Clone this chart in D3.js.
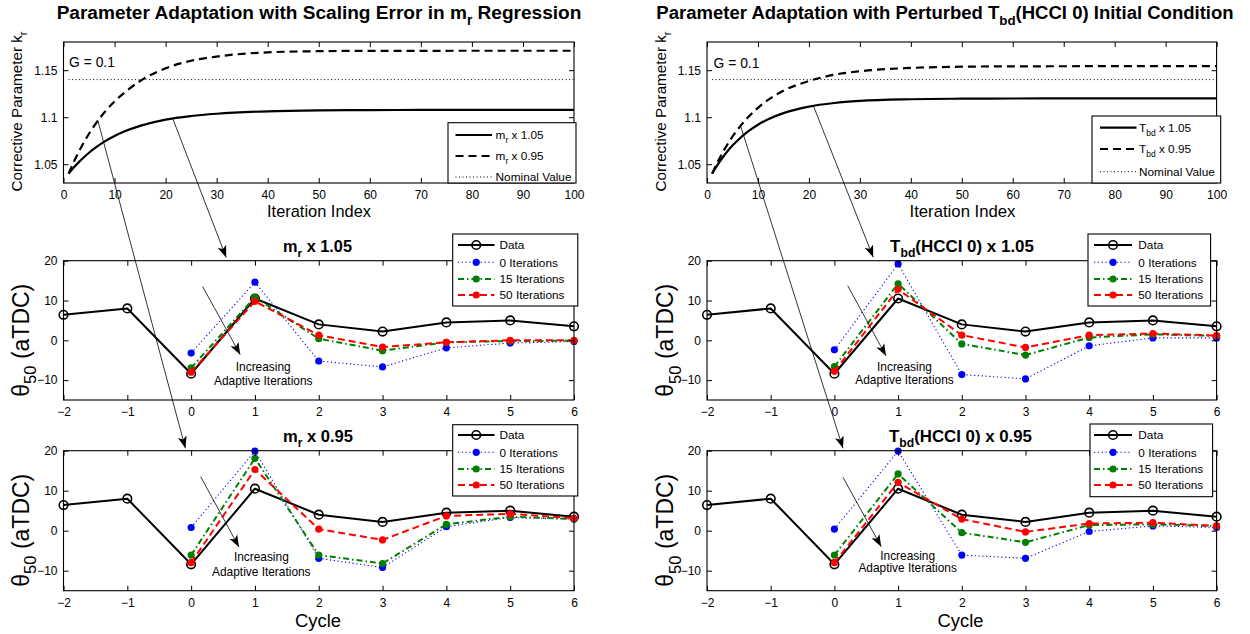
<!DOCTYPE html>
<html><head><meta charset="utf-8">
<script src="https://cdn.jsdelivr.net/npm/d3@7"></script>
<style>
body{margin:0;background:#fff;}
svg text{font-family:"Liberation Sans",Arial,Helvetica,sans-serif;white-space:pre;}
</style></head><body>
<svg id="chart" width="1250" height="634" xmlns="http://www.w3.org/2000/svg"></svg>
<script>
// ---------------- DATA ----------------
const iterations = [1,2,3,4,5,6,8,10,12,15,20,25,30,40,50,60,70,80,90,100];
const kMr105  = [1.040,1.0464,1.0522,1.0574,1.0622,1.0665,1.0740,1.0800,1.0850,1.0908,1.0975,1.1013,1.1037,1.1063,1.1073,1.1076,1.1077,1.1078,1.1078,1.1078];
const kMr095  = [1.040,1.0522,1.0632,1.0733,1.0824,1.0907,1.1050,1.1168,1.1264,1.1385,1.1520,1.1600,1.1645,1.1690,1.1702,1.1706,1.1706,1.1707,1.1707,1.1707];
const kTbd105 = [1.040,1.0488,1.0566,1.0636,1.0698,1.0753,1.0846,1.0920,1.0978,1.1043,1.1113,1.1151,1.1173,1.1191,1.1197,1.1199,1.1200,1.1200,1.1200,1.1200];
const kTbd095 = [1.040,1.0514,1.0617,1.0710,1.0793,1.0868,1.0996,1.1100,1.1184,1.1282,1.1385,1.1452,1.1489,1.1524,1.1537,1.1541,1.1542,1.1543,1.1543,1.1543];
const nominalIter = [1,100];
const nominalK = [1.14,1.14];

const cycles = [-2,-1,0,1,2,3,4,5,6];
const adaptCycles = [0,1,2,3,4,5,6];
const theta50Data = [6.4,8.0,-8.4,10.5,4.0,2.2,4.5,5.0,3.5];

const mr105Iter0  = [-3.2,14.6,-5.2,-6.7,-1.9,-0.7,-0.3];
const mr105Iter15 = [-6.9,10.8,0.4,-2.6,-0.5,-0.2,-0.1];
const mr105Iter50 = [-8.0,9.8,1.3,-1.7,-0.5,0.0,0.0];
const mr095Iter0  = [0.8,19.9,-6.9,-9.2,1.0,3.3,2.9];
const mr095Iter15 = [-6.1,18.1,-6.1,-8.2,1.6,3.5,2.9];
const mr095Iter50 = [-8.0,15.3,0.4,-2.3,3.7,4.2,3.1];
const tbd105Iter0  = [-2.4,19.2,-8.6,-9.7,-1.4,0.6,0.6];
const tbd105Iter15 = [-6.6,14.2,-0.9,-3.7,0.7,1.5,1.1];
const tbd105Iter50 = [-7.8,12.8,1.3,-1.8,1.3,1.7,1.2];
const tbd095Iter0  = [0.4,19.9,-6.1,-6.9,-0.2,1.2,0.8];
const tbd095Iter15 = [-6.1,14.2,-0.5,-2.9,1.4,1.6,1.2];
const tbd095Iter50 = [-8.0,12.1,2.9,-0.3,1.8,2.0,1.2];

const iterTicks = [0,10,20,30,40,50,60,70,80,90,100];
const kTicks = [1.05,1.1,1.15];
const cycleTicks = [-2,-1,0,1,2,3,4,5,6];
const thetaTicks = [-10,0,10,20];

const seriesLabels = ["Data","0 Iterations","15 Iterations","50 Iterations"];
const leftTopLabels = ["m_{r} x 1.05","m_{r} x 0.95","Nominal Value"];
const rightTopLabels = ["T_{bd} x 1.05","T_{bd} x 0.95","Nominal Value"];

// ---------------- STYLE ----------------
const FONT = "'Liberation Sans', Arial, Helvetica, sans-serif";
const seriesStyle = [
  {color:"#000", width:2, dash:null, marker:"open"},
  {color:"#0000ff", width:1.1, dash:"1.2,2.6", marker:"dot"},
  {color:"#008000", width:2, dash:"6,3,1.5,3", marker:"dot"},
  {color:"#ff0000", width:2, dash:"7,4", marker:"dot"}
];
const topStyle = [
  {width:2.2, dash:null},
  {width:2.2, dash:"8,5"},
  {width:1, dash:"1,2.5"}
];

const svg = d3.select("#chart");
svg.append("rect").attr("width",1250).attr("height",634).attr("fill","#fff");
const defs = svg.append("defs");
defs.append("marker").attr("id","ah").attr("viewBox","0 -5 12 10")
  .attr("refX",12).attr("refY",0).attr("markerWidth",12).attr("markerHeight",10)
  .attr("markerUnits","userSpaceOnUse").attr("orient","auto")
  .append("path").attr("d","M0,-4.5L12,0L0,4.5L3,0Z").attr("fill","#000");

function richText(parent, str, o){
  const g = parent.append("g");
  const t = g.append("text").attr("font-size",o.size).attr("font-weight",o.weight||"normal")
    .attr("text-anchor",o.anchor||"start").attr("fill","#000").style("font-family",FONT);
  const parts = str.split(/(_\{[^}]*\})/).filter(s=>s.length);
  const sh = o.size*0.33;
  let shifted=false;
  parts.forEach(p=>{
    const m = p.match(/^_\{(.*)\}$/);
    if(m){ t.append("tspan").attr("dy",sh).attr("font-size",o.size*0.72).text(m[1]); shifted=true; }
    else { const ts=t.append("tspan").text(p); if(shifted){ts.attr("dy",-sh); shifted=false;} }
  });
  let s=1;
  if(o.fit){ s = o.fit / t.node().getComputedTextLength(); }
  g.attr("transform",`translate(${o.x},${o.y})${o.rotate?` rotate(${o.rotate})`:""} scale(${s})`);
  return g;
}

function styleAxis(sel, showText){
  sel.select(".domain").remove();
  sel.selectAll(".tick line").attr("stroke","#000").attr("stroke-width",1);
  sel.selectAll(".tick text").attr("fill","#000").attr("font-size",12).style("font-family",FONT);
  if(!showText) sel.selectAll(".tick text").remove();
}

function frameAxes(g, x, y, xt, yt, xfmt, yfmt, pad){
  const [x0,x1]=x.range(), [yb,yt0]=y.range();
  g.append("g").attr("transform",`translate(0,${yb})`)
    .call(d3.axisBottom(x).tickValues(xt).tickFormat(xfmt).tickSizeInner(-5).tickSizeOuter(0).tickPadding(pad))
    .call(s=>styleAxis(s,true));
  g.append("g").attr("transform",`translate(0,${yt0})`)
    .call(d3.axisTop(x).tickValues(xt).tickSizeInner(-5).tickSizeOuter(0)).call(s=>styleAxis(s,false));
  g.append("g").attr("transform",`translate(${x0},0)`)
    .call(d3.axisLeft(y).tickValues(yt).tickFormat(yfmt).tickSizeInner(-5).tickSizeOuter(0).tickPadding(6))
    .call(s=>styleAxis(s,true));
  g.append("g").attr("transform",`translate(${x1},0)`)
    .call(d3.axisRight(y).tickValues(yt).tickSizeInner(-5).tickSizeOuter(0)).call(s=>styleAxis(s,false));
  g.append("rect").attr("x",x0).attr("y",yt0).attr("width",x1-x0).attr("height",yb-yt0)
    .attr("fill","none").attr("stroke","#000").attr("stroke-width",1.1);
}

function legendBox(g, b){
  g.append("rect").attr("x",b.x0).attr("y",b.y0).attr("width",b.x1-b.x0).attr("height",b.y1-b.y0)
    .attr("fill","#fff").attr("stroke","#000").attr("stroke-width",1.1);
}

// ---------------- TOP PANELS ----------------
function topPanel(cfg){
  const g = svg.append("g");
  const x = d3.scaleLinear().domain([0,100]).range([cfg.x0,cfg.x1]);
  const y = d3.scaleLinear().domain([1.03,1.18]).range([183,42]);
  const line = d3.line().x(d=>x(d[0])).y(d=>y(d[1])).curve(d3.curveMonotoneX);
  g.append("path").datum(d3.zip(nominalIter,nominalK)).attr("d",line).attr("fill","none")
    .attr("stroke","#000").attr("stroke-width",topStyle[2].width).attr("stroke-dasharray",topStyle[2].dash);
  [cfg.k105,cfg.k095].forEach((vals,i)=>{
    g.append("path").datum(d3.zip(iterations,vals)).attr("d",line).attr("fill","none")
      .attr("stroke","#000").attr("stroke-width",topStyle[i].width)
      .attr("stroke-dasharray",topStyle[i].dash);
  });
  frameAxes(g,x,y,iterTicks,kTicks,d3.format("d"),d=>String(+d.toFixed(2)),7);
  richText(g,"G = 0.1",{x:cfg.gx,y:cfg.gy,size:13.5,fit:46});
  const L = cfg.legend;
  legendBox(g,L);
  cfg.labels.forEach((lab,i)=>{
    const yy = L.rows[i];
    g.append("line").attr("x1",L.s0).attr("x2",L.s1).attr("y1",yy).attr("y2",yy)
      .attr("stroke","#000").attr("stroke-width",topStyle[i].width).attr("stroke-dasharray",topStyle[i].dash);
    richText(g,lab,{x:L.tx,y:yy+4.2,size:11.8});
  });
  richText(g,"Iteration Index",{x:cfg.xlabX,y:216.5,size:16.5,anchor:"middle",fit:cfg.xlabW});
  richText(g,"Corrective Parameter k_{r}",{x:cfg.ylabX,y:111.5,size:15,anchor:"middle",rotate:-90,fit:160});
  return {x,y};
}

// ---------------- CYCLE PANELS ----------------
function cyclePanel(cfg){
  const g = svg.append("g");
  const x = d3.scaleLinear().domain([-2,6]).range([cfg.x0,cfg.x1]);
  const y = d3.scaleLinear().domain([-15,20]).range([cfg.y1,cfg.y0]);
  const line = d3.line().x(d=>x(d[0])).y(d=>y(d[1]));
  const all = [d3.zip(cycles,theta50Data)].concat(cfg.series.map(s=>d3.zip(adaptCycles,s)));
  all.forEach((pts,i)=>{
    const st = seriesStyle[i];
    g.append("path").datum(pts).attr("d",line).attr("fill","none").attr("stroke",st.color)
      .attr("stroke-width",st.width).attr("stroke-dasharray",st.dash).attr("stroke-linejoin","round");
    g.selectAll(null).data(pts).join("circle").attr("cx",d=>x(d[0])).attr("cy",d=>y(d[1]))
      .attr("r",st.marker==="open"?4.3:3.6)
      .attr("fill",st.marker==="open"?"none":st.color)
      .attr("stroke",st.marker==="open"?"#000":"none").attr("stroke-width",1.6);
  });
  frameAxes(g,x,y,cycleTicks,thetaTicks,d3.format("d"),d3.format("d"),7.5);
  richText(g,cfg.title,{x:cfg.tX,y:cfg.y0-9,size:15,weight:"bold",anchor:"middle",fit:cfg.tW});
  const a = cfg.inc;
  g.append("line").attr("x1",x(a[0])).attr("y1",y(a[1])).attr("x2",x(a[2])).attr("y2",y(a[3]))
    .attr("stroke","#000").attr("stroke-width",0.8).attr("marker-end","url(#ah)");
  richText(g,"Increasing",{x:x(a[4]),y:y(a[5])+4.3,size:11.9,anchor:"middle"});
  richText(g,"Adaptive Iterations",{x:x(a[4]),y:y(a[5])+4.3+cfg.lineGap,size:11.9,anchor:"middle"});
  const L = cfg.legend;
  legendBox(g,L);
  seriesLabels.forEach((lab,i)=>{
    const st=seriesStyle[i], yy=L.rows[i];
    g.append("line").attr("x1",L.s0).attr("x2",L.s1).attr("y1",yy).attr("y2",yy)
      .attr("stroke",st.color).attr("stroke-width",st.width).attr("stroke-dasharray",st.dash);
    g.append("circle").attr("cx",(L.s0+L.s1)/2).attr("cy",yy).attr("r",st.marker==="open"?4.3:3.6)
      .attr("fill",st.marker==="open"?"none":st.color).attr("stroke",st.marker==="open"?"#000":"none").attr("stroke-width",1.6);
    richText(g,lab,{x:L.tx,y:yy+4.2,size:11.8});
  });
  if(cfg.xlab) richText(g,"Cycle",{x:cfg.tX,y:626.5,size:18,anchor:"middle",fit:46});
  richText(g,"θ_{50} (aTDC)",{x:cfg.ylabX,y:cfg.y0+136,size:22,rotate:-90,fit:113});
  return {x,y};
}

// ---------------- BUILD ----------------
richText(svg,"Parameter Adaptation with Scaling Error in m_{r} Regression",{x:319,y:18.5,size:17,weight:"bold",anchor:"middle",fit:525});
richText(svg,"Parameter Adaptation with Perturbed T_{bd}(HCCI 0) Initial Condition",{x:945,y:18.5,size:17,weight:"bold",anchor:"middle",fit:578});

const TL = topPanel({x0:63.5,x1:574,k105:kMr105,k095:kMr095,labels:leftTopLabels,gx:69,gy:66.7,
  legend:{x0:448,x1:576,y0:122.7,y1:183,rows:[135,156,177],s0:455.5,s1:492,tx:495.6},xlabX:319,xlabW:104,ylabX:22});
const TR = topPanel({x0:707,x1:1216.6,k105:kTbd105,k095:kTbd095,labels:rightTopLabels,gx:713.5,gy:68.3,
  legend:{x0:1092,x1:1220.7,y0:116,y1:183,rows:[127.7,149,171.7],s0:1100,s1:1136.5,tx:1139},xlabX:962.5,xlabW:106,ylabX:666});

const ML = cyclePanel({x0:63.5,x1:574,y0:260.7,y1:400,series:[mr105Iter0,mr105Iter15,mr105Iter50],
  title:"m_{r} x 1.05",tX:317.5,tW:69,inc:[0.18,13.5,0.77,-3.6,1.13,-6.6],lineGap:14.3,
  legend:{x0:452.7,x1:577.8,y0:234,y1:306,rows:[245,262.3,279,295],s0:458,s1:494.5,tx:499.5},ylabX:28.5});
const BL = cyclePanel({x0:63.5,x1:574,y0:450.7,y1:590.7,series:[mr095Iter0,mr095Iter15,mr095Iter50],
  title:"m_{r} x 0.95",tX:318,tW:70,inc:[0.15,13.5,0.75,-4.1,1.1,-6.6],lineGap:14.3,xlab:true,
  legend:{x0:452.7,x1:577.8,y0:424.7,y1:496,rows:[435,452.3,469,485],s0:458,s1:494.5,tx:499.5},ylabX:28.5});
const MR = cyclePanel({x0:707,x1:1216.6,y0:260.7,y1:400,series:[tbd105Iter0,tbd105Iter15,tbd105Iter50],
  title:"T_{bd}(HCCI 0) x 1.05",tX:962,tW:144,inc:[0.21,13.7,0.81,-3.9,1.1,-6.6],lineGap:13.5,
  legend:{x0:1088,x1:1210.6,y0:234,y1:306,rows:[245,262.3,279,295],s0:1094,s1:1132,tx:1138.3},ylabX:673});
const BR = cyclePanel({x0:707,x1:1216.6,y0:450.7,y1:590.7,series:[tbd095Iter0,tbd095Iter15,tbd095Iter50],
  title:"T_{bd}(HCCI 0) x 0.95",tX:960.5,tW:143,inc:[0.135,13.35,0.735,-4.0,1.15,-6.2],lineGap:12.5,xlab:true,
  legend:{x0:1090,x1:1212.6,y0:424,y1:496.7,rows:[435,452.3,469,485],s0:1094,s1:1132,tx:1138.3},ylabX:673});

function longArrow(fromP, fx, fy, toP, tx, ty){
  svg.append("line").attr("x1",fromP.x(fx)).attr("y1",fromP.y(fy)).attr("x2",toP.x(tx)).attr("y2",toP.y(ty))
    .attr("stroke","#000").attr("stroke-width",0.8).attr("marker-end","url(#ah)");
}
longArrow(TL,6.7,1.097,BL,-0.09,20.6);
longArrow(TL,21.4,1.0986,ML,0.55,20.8);
longArrow(TR,6.6,1.0906,BR,0.135,20.6);
longArrow(TR,20.9,1.1118,MR,0.61,20.85);
</script>
</body></html>
